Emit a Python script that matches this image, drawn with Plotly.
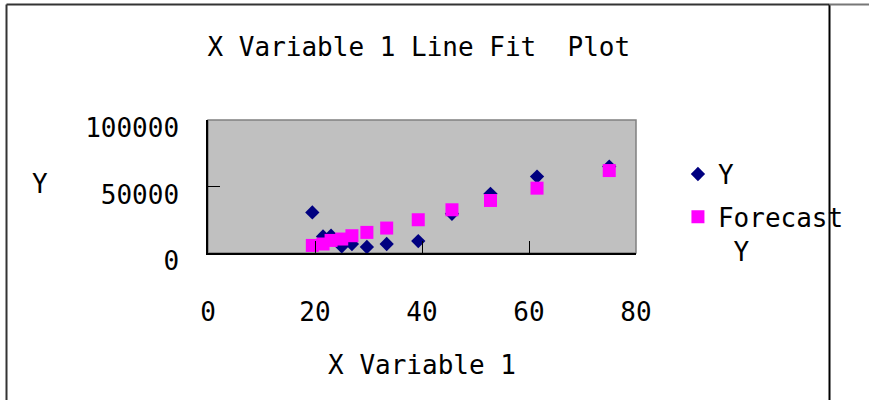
import plotly.graph_objects as go

# Data
x_vals = [19.5, 21.5, 23.0, 25.0, 26.9, 29.7, 33.4, 39.3, 45.6, 52.8, 61.5, 75.0]
y_vals = [30500, 12500, 13000, 5000, 6750, 4500, 6750, 9000, 29500, 44500, 57500, 65000]
forecast_vals = [5700, 6750, 9450, 10500, 13000, 15500, 18750, 25000, 32500, 39500, 48750, 62000]

x_ticks = [0, 20, 40, 60, 80]
y_ticks = [0, 50000, 100000]
y_tick_text = ["0", "50000", "100000"]

FONT = "DejaVu Sans Mono"
FS = 26

fig = go.Figure()
fig.add_trace(go.Scatter(
    x=x_vals, y=y_vals, mode="markers", name="Y", legendgroup="a",
    marker=dict(symbol="diamond", size=11, color="#000080", line=dict(width=0)),
))
fig.add_trace(go.Scatter(
    x=x_vals, y=forecast_vals, mode="markers", name="Forecast<br>\u00a0Y", legendgroup="b",
    marker=dict(symbol="square", size=13, color="#FF00FF", line=dict(width=0)),
))

fig.update_layout(
    width=869, height=400,
    margin=dict(l=208, r=233, t=120, b=147),
    paper_bgcolor="white",
    plot_bgcolor="#C0C0C0",
    font=dict(family=FONT, size=FS, color="black"),
    title=dict(text="X Variable 1 Line Fit\u00a0 Plot", x=0.482, xanchor="center",
               y=1 - 47 / 400, yanchor="middle", yref="container",
               font=dict(family=FONT, size=FS, color="black")),
    showlegend=True,
    legend=dict(x=1.098, xanchor="left", y=0.77, yanchor="top",
                bgcolor="rgba(0,0,0,0)", font=dict(family=FONT, size=FS),
                tracegroupgap=6, itemsizing="trace", valign="top"),
    xaxis=dict(range=[0, 80], tickvals=x_ticks, ticks="inside", ticklen=12,
               tickcolor="black", showgrid=False, zeroline=False,
               showline=True, linecolor="black", linewidth=1.5,
               ticklabelstandoff=35,
               title=dict(text="X Variable 1", standoff=30,
                          font=dict(family=FONT, size=FS))),
    yaxis=dict(range=[0, 100000], tickvals=y_ticks, ticktext=y_tick_text,
               ticks="inside", ticklen=12,
               tickcolor="black", showgrid=False, zeroline=False,
               showline=True, linecolor="black", linewidth=1.5,
               ticklabelstandoff=22, ticklabelshift=8),
)

# Gray border around plot area
fig.add_shape(type="rect", xref="x domain", yref="y domain", x0=0, x1=1, y0=0, y1=1,
              line=dict(color="#808080", width=1.5), layer="below")

# Y axis title (horizontal)
fig.add_annotation(text="Y", xref="paper", yref="paper", x=(40 - 208) / 428, y=0.52,
                   xanchor="center", yanchor="middle", showarrow=False,
                   font=dict(family=FONT, size=FS, color="black"))

# Outer chart frame
fig.add_shape(type="line", xref="paper", yref="paper",
              x0=(6.5 - 208) / 428, x1=(6.5 - 208) / 428,
              y0=(253 - 410) / 133, y1=(253 - 4.5) / 133,
              line=dict(color="#333333", width=2))
fig.add_shape(type="line", xref="paper", yref="paper",
              x0=(6.5 - 208) / 428, x1=(829.5 - 208) / 428,
              y0=(253 - 4.5) / 133, y1=(253 - 4.5) / 133,
              line=dict(color="#333333", width=2))
fig.add_shape(type="line", xref="paper", yref="paper",
              x0=(829.5 - 208) / 428, x1=(829.5 - 208) / 428,
              y0=(253 - 410) / 133, y1=(253 - 4.5) / 133,
              line=dict(color="black", width=2))
fig.add_shape(type="line", xref="paper", yref="paper",
              x0=(829.5 - 208) / 428, x1=(880 - 208) / 428,
              y0=(253 - 4.5) / 133, y1=(253 - 4.5) / 133,
              line=dict(color="#777777", width=2))

fig.write_html("out.html")
